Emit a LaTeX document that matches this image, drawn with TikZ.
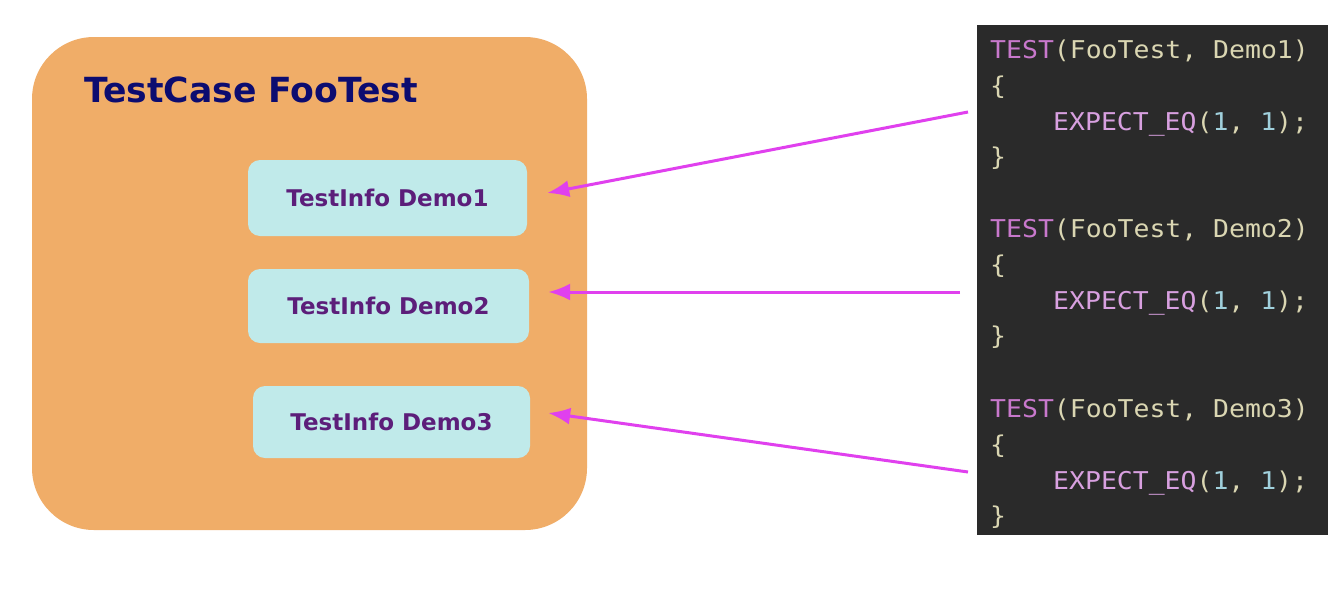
\documentclass[tikz,border=0pt]{standalone}
\usepackage{fontspec}
\usetikzlibrary{arrows.meta,calc}
\setmainfont{DejaVu Sans}
\newfontfamily\codefont[FakeStretch=1.08]{DejaVu Sans Mono}
\definecolor{orangebg}{HTML}{F0AD68}
\definecolor{cyanbox}{HTML}{C0EAEA}
\definecolor{titlecol}{HTML}{0C0C70}
\definecolor{infocol}{HTML}{5C1E7A}
\definecolor{panelcol}{HTML}{2A2A2A}
\definecolor{arrcol}{HTML}{E040EE}
\definecolor{kwtest}{HTML}{C878CC}
\definecolor{kwexp}{HTML}{D8A0E0}
\definecolor{plain}{HTML}{DAD6B2}
\definecolor{numcol}{HTML}{A0D0DC}
\newcommand{\Tk}[1]{\textcolor{kwtest}{#1}}
\newcommand{\Ek}[1]{\textcolor{kwexp}{#1}}
\newcommand{\Nk}[1]{\textcolor{numcol}{#1}}
\begin{document}
\begin{tikzpicture}[x=1pt,y=-1pt,
  casebox/.style={fill=orangebg,draw=none,rounded corners=62pt,minimum width=555pt,minimum height=493pt,inner sep=0},
  infobox/.style={fill=cyanbox,draw=none,rounded corners=12pt,inner sep=0,text=infocol,font=\fontsize{23}{26}\selectfont\bfseries},
  codeline/.style={anchor=base west,inner sep=0,text=plain,font=\codefont\fontsize{24.5}{28}\selectfont},
  arr/.style={draw=arrcol,line width=3pt,-{Latex[length=22pt,width=17pt]}}]
\useasboundingbox (0,0) rectangle (1338,592);
\fill[white] (0,0) rectangle (1338,592);
% left part
\node[casebox] (tc) at (309.5,283.5) {};
\node[anchor=base west,inner sep=0,text=titlecol,font=\fontsize{34.6}{38}\selectfont\bfseries] (title) at (84,102) {TestCase FooTest};
\node[infobox,minimum width=279pt,minimum height=76pt] (d1) at (387.5,198) {TestInfo Demo1};
\node[infobox,minimum width=281pt,minimum height=74pt] (d2) at (388.5,306) {TestInfo Demo2};
\node[infobox,minimum width=277pt,minimum height=72pt] (d3) at (391.5,422) {TestInfo Demo3};
% code panel
\node[fill=panelcol,draw=none,inner sep=0,minimum width=351pt,minimum height=510pt] (panel) at (1152.5,280) {};
\node[codeline] (c1a) at (990,58) {\Tk{TEST}(FooTest, Demo1)};
\node[codeline] (c1b) at (990,94) {\{};
\node[codeline] (c1c) at (1053,130) {\Ek{EXPECT\_EQ}(\Nk{1}, \Nk{1});};
\node[codeline] (c1d) at (990,165) {\}};
\node[codeline] (c2a) at (990,237) {\Tk{TEST}(FooTest, Demo2)};
\node[codeline] (c2b) at (990,273) {\{};
\node[codeline] (c2c) at (1053,309) {\Ek{EXPECT\_EQ}(\Nk{1}, \Nk{1});};
\node[codeline] (c2d) at (990,344) {\}};
\node[codeline] (c3a) at (990,417) {\Tk{TEST}(FooTest, Demo3)};
\node[codeline] (c3b) at (990,453) {\{};
\node[codeline] (c3c) at (1053,489) {\Ek{EXPECT\_EQ}(\Nk{1}, \Nk{1});};
\node[codeline] (c3d) at (990,524) {\}};
% connectors
\coordinate (s1) at (968,112);
\coordinate (s2) at (960,292);
\coordinate (s3) at (968,472);
\coordinate (t1) at ($(d1.east)+(20,-5)$);
\coordinate (t2) at ($(d2.east)+(19,-14)$);
\coordinate (t3) at ($(d3.east)+(18,-9)$);
\draw[arr] (s1) -- (t1);
\draw[arr] (s2) -- (t2);
\draw[arr] (s3) -- (t3);
\end{tikzpicture}
\end{document}
